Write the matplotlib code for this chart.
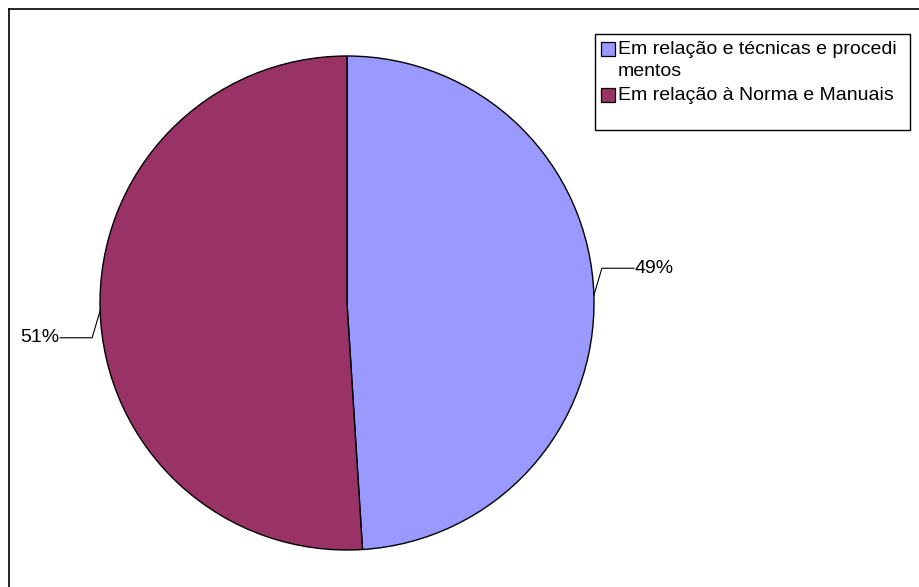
import numpy as np
import matplotlib.pyplot as plt
from matplotlib.patches import Rectangle

plt.rcParams['font.family'] = ['Liberation Sans', 'DejaVu Sans']

# data
labels = ["Em relação e técnicas e procedi\nmentos", "Em relação à Norma e Manuais"]
shares = [49, 51]
colors = ["#9999FF", "#993366"]

W, H = 919, 587
fig = plt.figure(figsize=(W / 100, H / 100), dpi=100)
ax = fig.add_axes([0, 0, 1, 1])

# pie in pixel units (y up)
cx, cy, r = 347, 284, 247
wedges, _ = ax.pie(shares, colors=colors, startangle=90, counterclock=False,
                   center=(cx, cy), radius=r,
                   wedgeprops=dict(edgecolor="black", linewidth=1.0))
ax.set_xlim(0, W)
ax.set_ylim(0, H)
ax.axis("off")

# leader lines + percentage labels
for w, v in zip(wedges, shares):
    ang = np.deg2rad((w.theta1 + w.theta2) / 2)
    x0, y0 = cx + r * np.cos(ang), cy + r * np.sin(ang)
    s = 1 if np.cos(ang) > 0 else -1
    x1, y1 = x0 + 8 * s, y0 + 27 * s
    x2 = x1 + 32 * s
    ax.plot([x0, x1, x2], [y0, y1, y1], color="black", lw=0.8)
    ax.text(x2 + 1 * s, y1, f"{v}%", fontsize=14,
            ha="left" if s > 0 else "right", va="center")

# outer frame (top and left only visible)
ax.plot([9, W], [H - 9, H - 9], color="black", lw=1.2)
ax.plot([9, 9], [0, H - 9], color="black", lw=1.2)

# legend box
lx0, ly0, lx1, ly1 = 595, H - 130, 910, H - 34
ax.add_patch(Rectangle((lx0, ly0), lx1 - lx0, ly1 - ly0, fill=False,
                       edgecolor="black", lw=1.0))
step = 23
yy = H - 49
for lab, c in zip(labels, colors):
    ax.add_patch(Rectangle((601, yy - 7), 14, 14, facecolor=c,
                           edgecolor="black", lw=0.9))
    for line in lab.split("\n"):
        ax.text(618, yy, line, fontsize=14, ha="left", va="center")
        yy -= step

fig.savefig("out.png", dpi=100)
